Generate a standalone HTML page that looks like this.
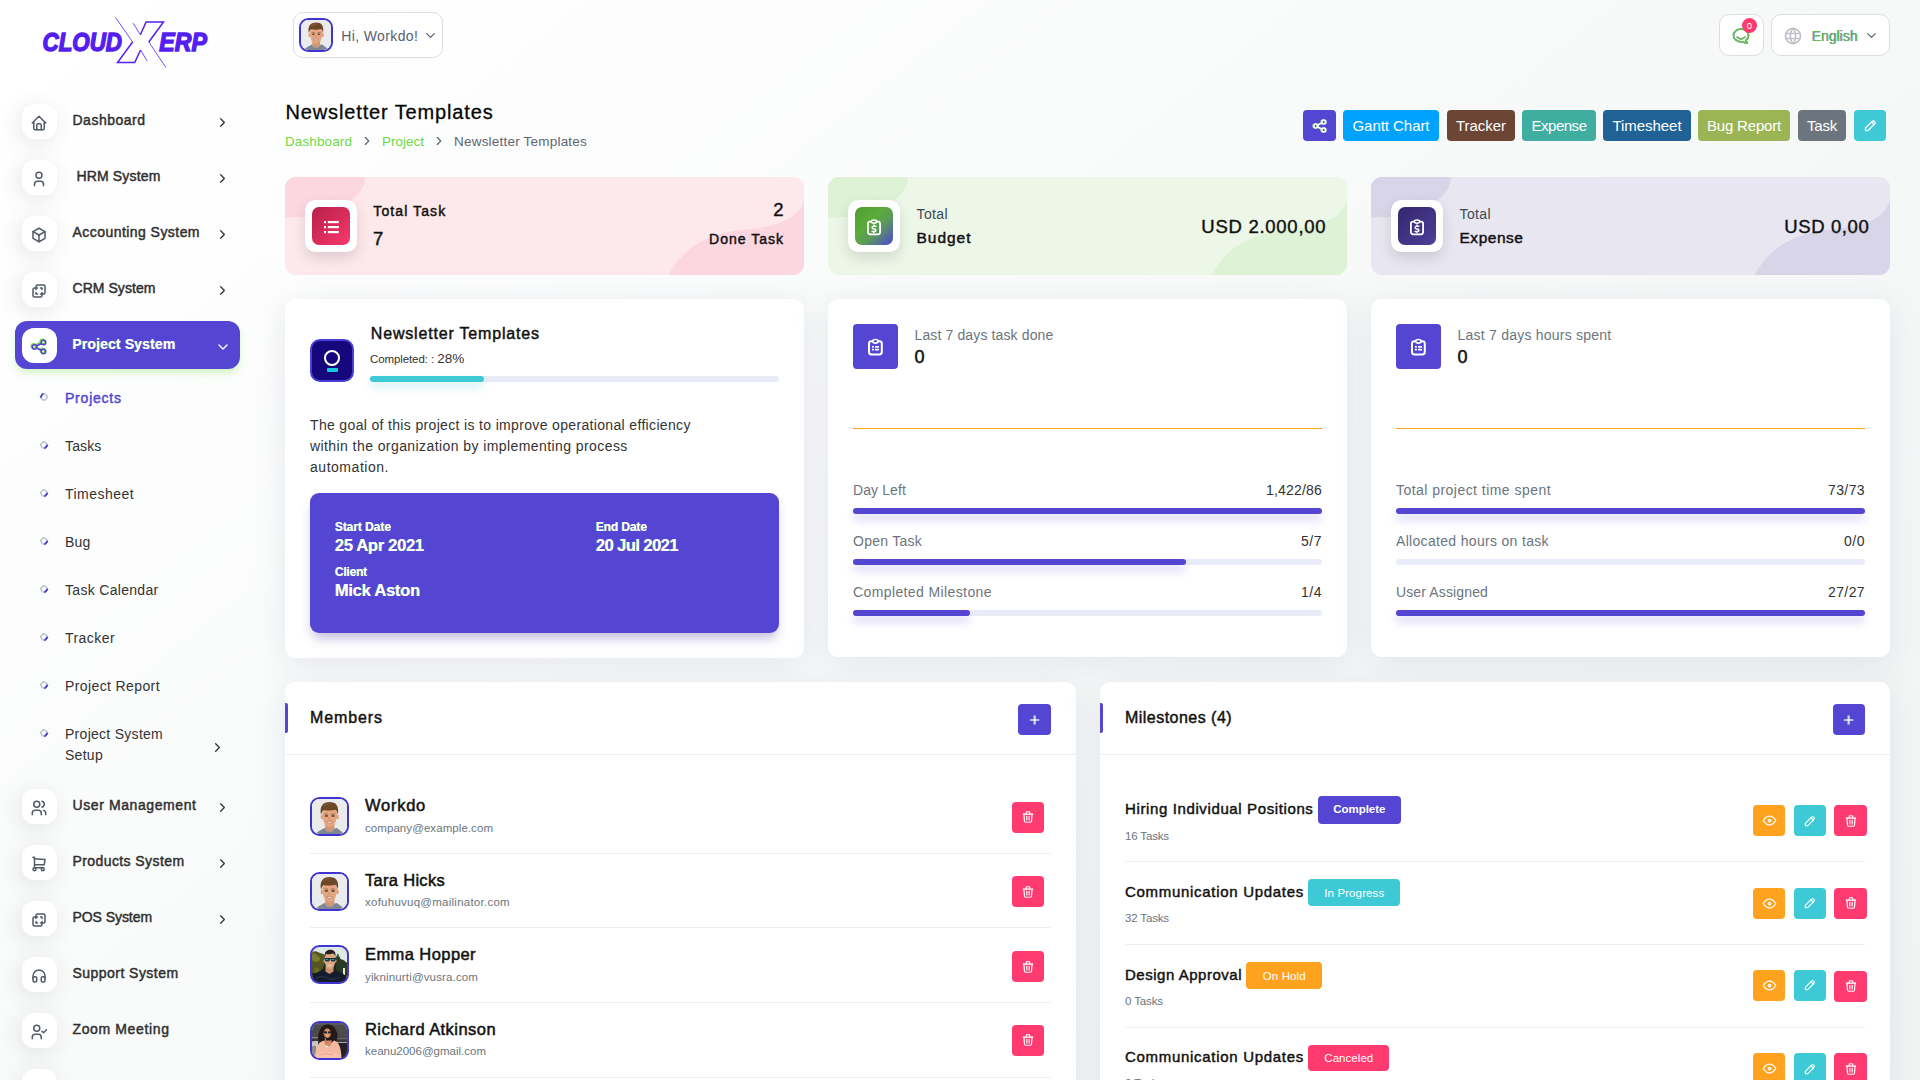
<!DOCTYPE html>
<html lang="en">
<head>
<meta charset="utf-8">
<title>Newsletter Templates</title>
<style>
*{box-sizing:border-box;margin:0;padding:0}
html,body{width:1920px;height:1080px;overflow:hidden}
body{font-family:"Liberation Sans",sans-serif;background:linear-gradient(141.55deg,rgba(240,244,243,0) 3.46%,#f0f4f3 99.86%),#fff;color:#333;position:relative;font-size:14px}
.abs{position:absolute}
svg.ti{fill:none;stroke:currentColor;stroke-width:2;stroke-linecap:round;stroke-linejoin:round;display:block}
/* ---------- sidebar ---------- */
#sidebar{position:absolute;left:0;top:0;width:280px;height:1080px}
.nav{position:absolute;left:15px;width:225px;height:48px}
.nav .ic{position:absolute;left:7px;top:6px;width:35px;height:35px;border-radius:12px;background:#fff;box-shadow:-3px 4px 23px rgba(0,0,0,.10);color:#525b69}
.nav .ic svg{position:absolute;left:8.400px;top:9.700px;width:18px;height:18px}
.nav .tx{position:absolute;left:57.500px;top:14.100px;font-size:14px;font-weight:400;color:#2f2f2f;-webkit-text-stroke:.45px #2f2f2f;white-space:nowrap}
.nav .ch{position:absolute;left:199.600px;top:17.100px;width:15px;height:15px;color:#333}
.nav.active{background:#5446d3;border-radius:12px;box-shadow:0 5px 7px -1px rgba(111,217,67,.30)}
.nav.active .tx{color:#fff;font-weight:700;-webkit-text-stroke:0;text-shadow:-.5px 0 0 rgba(170,240,120,.85)}
.nav.active .ch{color:#fff}
.nav.active{height:48.400px}
.nav.active>*{margin-top:.9px}
.nav.active .ic{box-shadow:none;color:#5446d3}
.nav.active .ic svg{filter:drop-shadow(-.6px -.4px 0 #6fd943)}
.sub{position:absolute;left:65px;font-size:14px;color:#333;white-space:nowrap;line-height:21px}
.sub.on{color:#5446d3;-webkit-text-stroke:.45px #5446d3}
.dot{position:absolute;left:40px;width:8px;height:8px;border-radius:50%;border:2px solid #c9cdda;border-right-color:#4a3fc0;transform:rotate(40deg)}
/* ---------- header ---------- */
.pill{position:absolute;background:#fff;border:1px solid #dcdee1;border-radius:10px}
/* ---------- cards ---------- */
.card{position:absolute;background:#fff;border-radius:10px;box-shadow:0 6px 30px rgba(182,186,203,.30)}
.btn{position:absolute;border-radius:4px;color:#fff;font-size:15px;text-align:center;white-space:nowrap}

.stat{position:absolute;width:519px;height:98px;border-radius:11px;overflow:hidden}
.blob{position:absolute;border-radius:50%}
.sic{position:absolute;left:20px;top:23px;width:52.300px;height:52.300px;border-radius:10.500px;background:#fff;box-shadow:0 6px 14px rgba(0,0,0,.12)}
.sin{position:absolute;left:7px;top:6.900px;width:38px;height:38.100px;border-radius:7px;color:#fff}
.t15b{-webkit-text-stroke-width:.45px;font-size:14px;font-weight:400;color:#111;white-space:nowrap}
.t16b{-webkit-text-stroke-width:.45px;font-size:15.5px;font-weight:400;color:#111;white-space:nowrap}
.t19b{-webkit-text-stroke-width:.4px;font-size:18.5px;font-weight:400;color:#111;white-space:nowrap}
.t20b{-webkit-text-stroke-width:.45px;font-size:18.5px;font-weight:400;color:#111;white-space:nowrap}
.avatar{border:2px solid #4034d2;border-radius:9.500px;overflow:hidden;background:#eceef1}
.avatar svg{display:block;width:100%;height:100%}

.prow{position:absolute;left:25px;width:469px;height:18px;font-size:14px;white-space:nowrap}
.prow .l{position:absolute;left:0;top:0;color:#6c757d}
.prow .r{position:absolute;right:0;top:0;color:#333}
.pbar{position:absolute;left:25px;width:469px;height:6px;border-radius:3px;background:#e9ebf8}
.pbar div{height:6px;border-radius:3px;background:#5446d3;box-shadow:0 6px 8px rgba(84,70,211,.22)}

.mname{position:absolute;left:80px;font-size:16.5px;font-weight:400;-webkit-text-stroke-width:.5px;color:#111;white-space:nowrap}
.mmail{position:absolute;left:80px;font-size:11.5px;color:#6c757d;white-space:nowrap}
.sep{position:absolute;left:25px;height:1px;background:#eceef2}
.ab{position:absolute;width:32px;height:31px;border-radius:4px;color:#fff}
.mtitle{position:absolute;left:25px;font-size:15px;font-weight:400;-webkit-text-stroke-width:.45px;color:#111;white-space:nowrap}
.badge{position:absolute;height:28px;border-radius:4px;color:#fff;font-size:11.5px;line-height:28px;text-align:center;white-space:nowrap}
.sb{font-weight:400!important;-webkit-text-stroke-width:.45px}
</style>
</head>
<body>

<div id="sidebar">
<svg class="abs" style="left:30px;top:5px" width="200" height="80" viewBox="30 5 200 80">
<g fill="#551ef0" stroke="#551ef0" stroke-width="1.4" font-family="Liberation Sans, sans-serif" font-weight="700" font-style="italic" font-size="25.5">
<text x="42.500" y="50.500" textLength="79.500" lengthAdjust="spacingAndGlyphs">CLOUD</text>
<text x="159.300" y="50.500" textLength="47.500" lengthAdjust="spacingAndGlyphs">ERP</text>
</g>
<g fill="none" stroke="#551ef0" stroke-linejoin="miter">
<path stroke-width="1.5" d="M132.600 42L117.500 62.500L134.700 62.500L140.600 50M140.400 34.700L146.100 21.900L163.500 21.900L148.800 42"/>
<path stroke-width=".8" d="M115.400 17.300L132.600 42M140.600 50L147.200 61.200M133.100 23.200L140.400 34.700M148.800 42L165.900 67.500"/>
</g>
</svg>

<div class="nav" style="top:98px">
<div class="ic"><svg class="ti" viewBox="0 0 24 24" style=""><path d="M5 12l-2 0l9 -9l9 9l-2 0"/><path d="M5 12v7a2 2 0 0 0 2 2h10a2 2 0 0 0 2 -2v-7"/><path d="M9 21v-6a2 2 0 0 1 2 -2h2a2 2 0 0 1 2 2v6"/></svg></div>
<div class="tx" style="margin-left:0px"><span style="letter-spacing:0.50px">Dashboard</span></div>
<div class="ch"><svg class="ti" viewBox="0 0 24 24" stroke-width="3" style="width:15px;height:15px;"><path d="M9 6l6 6l-6 6"/></svg></div>
</div>
<div class="nav" style="top:154px">
<div class="ic"><svg class="ti" viewBox="0 0 24 24" style=""><circle cx="12" cy="7" r="4"/><path d="M6 21v-2a4 4 0 0 1 4 -4h4a4 4 0 0 1 4 4v2"/></svg></div>
<div class="tx" style="margin-left:4px"><span style="letter-spacing:0.15px">HRM System</span></div>
<div class="ch"><svg class="ti" viewBox="0 0 24 24" stroke-width="3" style="width:15px;height:15px;"><path d="M9 6l6 6l-6 6"/></svg></div>
</div>
<div class="nav" style="top:210px">
<div class="ic"><svg class="ti" viewBox="0 0 24 24" style=""><path d="M12 3l8 4.5l0 9l-8 4.5l-8 -4.5l0 -9l8 -4.5"/><path d="M12 12l8 -4.5"/><path d="M12 12l0 9"/><path d="M12 12l-8 -4.5"/></svg></div>
<div class="tx" style="margin-left:0px"><span style="letter-spacing:0.45px">Accounting System</span></div>
<div class="ch"><svg class="ti" viewBox="0 0 24 24" stroke-width="3" style="width:15px;height:15px;"><path d="M9 6l6 6l-6 6"/></svg></div>
</div>
<div class="nav" style="top:266px">
<div class="ic"><svg class="ti" viewBox="0 0 24 24" style=""><path d="M16 16v2a2 2 0 0 1 -2 2h-8a2 2 0 0 1 -2 -2v-8a2 2 0 0 1 2 -2h2v-2a2 2 0 0 1 2 -2h8a2 2 0 0 1 2 2v8a2 2 0 0 1 -2 2h-2"/><path d="M10 8l-2 0l0 2"/><path d="M8 14l0 2l2 0"/><path d="M14 8l2 0l0 2"/><path d="M16 14l0 2l-2 0"/></svg></div>
<div class="tx" style="margin-left:0px"><span style="letter-spacing:0.05px">CRM System</span></div>
<div class="ch"><svg class="ti" viewBox="0 0 24 24" stroke-width="3" style="width:15px;height:15px;"><path d="M9 6l6 6l-6 6"/></svg></div>
</div>
<div class="nav active" style="top:321.1px">
<div class="ic"><svg class="ti" viewBox="0 0 24 24" style=""><circle cx="6" cy="12" r="3"/><circle cx="18" cy="6" r="3"/><circle cx="18" cy="18" r="3"/><path d="M8.7 10.7l6.6 -3.4"/><path d="M8.7 13.3l6.6 3.4"/></svg></div>
<div class="tx" style="margin-left:0px"><span style="letter-spacing:0.13px">Project System</span></div>
<div class="ch"><svg class="ti" viewBox="0 0 24 24" stroke-width="3.6" style="width:16px;height:16px;"><path d="M6 9l6 6l6 -6"/></svg></div>
</div>
<div class="nav" style="top:783px">
<div class="ic"><svg class="ti" viewBox="0 0 24 24" style=""><circle cx="9" cy="7" r="4"/><path d="M3 21v-2a4 4 0 0 1 4 -4h4a4 4 0 0 1 4 4v2"/><path d="M16 3.13a4 4 0 0 1 0 7.75"/><path d="M21 21v-2a4 4 0 0 0 -3 -3.85"/></svg></div>
<div class="tx" style="margin-left:0px"><span style="letter-spacing:0.59px">User Management</span></div>
<div class="ch"><svg class="ti" viewBox="0 0 24 24" stroke-width="3" style="width:15px;height:15px;"><path d="M9 6l6 6l-6 6"/></svg></div>
</div>
<div class="nav" style="top:839px">
<div class="ic"><svg class="ti" viewBox="0 0 24 24" style=""><circle cx="6" cy="19" r="2"/><circle cx="17" cy="19" r="2"/><path d="M17 17h-11v-14h-2"/><path d="M6 5l14 1l-1 7h-13"/></svg></div>
<div class="tx" style="margin-left:0px"><span style="letter-spacing:0.41px">Products System</span></div>
<div class="ch"><svg class="ti" viewBox="0 0 24 24" stroke-width="3" style="width:15px;height:15px;"><path d="M9 6l6 6l-6 6"/></svg></div>
</div>
<div class="nav" style="top:895px">
<div class="ic"><svg class="ti" viewBox="0 0 24 24" style=""><path d="M16 16v2a2 2 0 0 1 -2 2h-8a2 2 0 0 1 -2 -2v-8a2 2 0 0 1 2 -2h2v-2a2 2 0 0 1 2 -2h8a2 2 0 0 1 2 2v8a2 2 0 0 1 -2 2h-2"/><path d="M10 8l-2 0l0 2"/><path d="M8 14l0 2l2 0"/><path d="M14 8l2 0l0 2"/><path d="M16 14l0 2l-2 0"/></svg></div>
<div class="tx" style="margin-left:0px"><span style="letter-spacing:-0.06px">POS System</span></div>
<div class="ch"><svg class="ti" viewBox="0 0 24 24" stroke-width="3" style="width:15px;height:15px;"><path d="M9 6l6 6l-6 6"/></svg></div>
</div>
<div class="nav" style="top:951px">
<div class="ic"><svg class="ti" viewBox="0 0 24 24" style=""><rect x="4" y="13" width="5" height="7" rx="2"/><rect x="15" y="13" width="5" height="7" rx="2"/><path d="M4 15v-3a8 8 0 0 1 16 0v3"/></svg></div>
<div class="tx" style="margin-left:0px"><span style="letter-spacing:0.46px">Support System</span></div>
</div>
<div class="nav" style="top:1007px">
<div class="ic"><svg class="ti" viewBox="0 0 24 24" style=""><circle cx="9" cy="7" r="4"/><path d="M3 21v-2a4 4 0 0 1 4 -4h4a4 4 0 0 1 4 4v2"/><path d="M16 11l2 2l4 -4"/></svg></div>
<div class="tx" style="margin-left:0px"><span style="letter-spacing:0.63px">Zoom Meeting</span></div>
</div>
<div class="nav" style="top:1063px">
<div class="ic"><svg class="ti" viewBox="0 0 24 24" style=""><circle cx="12" cy="7" r="4"/><path d="M6 21v-2a4 4 0 0 1 4 -4h4a4 4 0 0 1 4 4v2"/></svg></div>
<div class="tx" style="margin-left:0px"><span style="letter-spacing:1.00px"></span></div>
</div>
<div class="dot" style="top:392.6px;transform:rotate(215deg);"></div>
<div class="sub on" style="top:387.8px"><span style="letter-spacing:0.78px">Projects</span></div>
<div class="dot" style="top:440.6px;"></div>
<div class="sub" style="top:435.8px"><span style="letter-spacing:0.14px">Tasks</span></div>
<div class="dot" style="top:488.6px;"></div>
<div class="sub" style="top:483.8px"><span style="letter-spacing:0.46px">Timesheet</span></div>
<div class="dot" style="top:536.6px;"></div>
<div class="sub" style="top:531.8px"><span style="letter-spacing:0.19px">Bug</span></div>
<div class="dot" style="top:584.6px;"></div>
<div class="sub" style="top:579.8px"><span style="letter-spacing:0.31px">Task Calendar</span></div>
<div class="dot" style="top:632.6px;"></div>
<div class="sub" style="top:627.8px"><span style="letter-spacing:0.44px">Tracker</span></div>
<div class="dot" style="top:680.6px;"></div>
<div class="sub" style="top:675.8px"><span style="letter-spacing:0.39px">Project Report</span></div>
<div class="dot" style="top:728.6px;"></div>
<div class="sub" style="top:723.8px"><span style="letter-spacing:0.28px">Project System</span></div>
<div class="sub" style="top:744.8px"><span style="letter-spacing:0.28px">Setup</span></div>
<div class="abs" style="left:209.7px;top:739.5px;color:#333"><svg class="ti" viewBox="0 0 24 24" stroke-width="3" style="width:15px;height:15px;"><path d="M9 6l6 6l-6 6"/></svg></div>
</div>
<div id="main">
<!-- header -->
<div class="pill" style="left:293px;top:12px;width:150px;height:46px">
  <div class="avatar abs" style="left:5px;top:5.300px;width:34px;height:33.500px"><svg viewBox="2 2 35 35"><rect width="39" height="39" fill="#ebebeb"/>
<path d="M4 39C5 36 8.500 34.500 14.400 31L19.500 33L26.900 31C31.500 34.500 34 36 35 39Z" fill="#7f8794"/>
<path d="M14.400 31l3 4.500l2.200-2.500l2.300 2.500l3-4.500l-4-1.500z" fill="#9aa1ad"/>
<path d="M15.300 26h9v6l-4.500 3.200l-4.500-3.200z" fill="#d39670"/>
<ellipse cx="11.900" cy="20" rx="1.300" ry="2.300" fill="#dc9f79"/><ellipse cx="27.500" cy="20" rx="1.300" ry="2.300" fill="#dc9f79"/>
<path d="M12.300 17C12.300 11 15 8.500 19.700 8.500S27 11 27 17C27 24 24 30.500 19.700 30.500S12.300 24 12.300 17Z" fill="#e4a781"/>
<path d="M11 18C9.300 9 13 5 19.500 5S29.200 8.500 27.900 18C27.400 14.800 26.600 13.400 25.600 12.700C22 13.900 16 13.600 13.600 12.900C12.500 13.600 11.600 15.200 11 18Z" fill="#6c4829"/>
<path d="M13 9.500C15 6.500 19 5.800 22 6.600C19 7 16 8 13 9.500Z" fill="#8a6138"/>
<ellipse cx="16.400" cy="18.900" rx="1.700" ry=".9" fill="#5a4334"/><ellipse cx="23" cy="18.900" rx="1.700" ry=".9" fill="#5a4334"/>
<path d="M14.300 17.300q2-1 4 0M21 17.300q2-1 4 0" stroke="#7a5436" stroke-width=".7" fill="none"/>
<path d="M16.400 24.600Q19.700 28.600 23 24.600Q19.700 25.600 16.400 24.600Z" fill="#fff" stroke="#b9705a" stroke-width=".6"/>
<path d="M19 20v3h1.600" fill="none" stroke="#c98d69" stroke-width=".7"/>
<path d="M14 27q5.700 5 11.400 0q-1.500 3.800-5.700 3.800T14 27z" fill="#d19873" opacity=".6"/>
</svg></div>
  <div class="abs" style="left:47.200px;top:14.900px;font-size:14px;color:#566070;white-space:nowrap"><span style="letter-spacing:0.38px">Hi, Workdo!</span></div>
  <div class="abs" style="left:128.600px;top:15.200px;color:#5b6473"><svg class="ti" viewBox="0 0 24 24" stroke-width="2.2" style="width:15px;height:15px;"><path d="M6 9l6 6l6 -6"/></svg></div>
</div>
<div class="pill" style="left:1718.500px;top:14px;width:45px;height:41.500px">
  <div class="abs" style="left:11.900px;top:11.100px;color:#6acb45;filter:drop-shadow(.5px .5px 0 #5446d3)"><svg class="ti" viewBox="0 0 24 24" stroke-width="1.4" style="width:20px;height:20px;"><path d="M17.802 17.292s.077 -.055 .2 -.149c1.843 -1.425 3 -3.49 3 -5.789c0 -4.286 -4.03 -7.764 -9 -7.764c-4.97 0 -9 3.478 -9 7.764c0 4.288 4.03 7.646 9 7.646c.424 0 1.12 -.028 2.088 -.084c1.262 .82 3.104 1.493 4.716 1.493c.499 0 .734 -.41 .414 -.828c-.486 -.596 -1.156 -1.551 -1.416 -2.29z"/><path d="M7.5 13.5c2.5 2.5 6.5 2.5 9 0"/></svg></div>
  <div class="abs" style="left:22.500px;top:2.800px;width:15px;height:15px;border-radius:50%;background:#ff3a6e;color:#fff;font-size:9.5px;line-height:15px;text-align:center">0</div>
</div>
<div class="pill" style="left:1770.500px;top:14px;width:119px;height:41.500px">
  <div class="abs" style="left:11.900px;top:10.800px;color:#bfc2c7"><svg class="ti" viewBox="0 0 24 24" stroke-width="1.5" style="width:20px;height:20px;"><circle cx="12" cy="12" r="9"/><path d="M3.6 9h16.8"/><path d="M3.6 15h16.8"/><path d="M11.5 3a17 17 0 0 0 0 18"/><path d="M12.5 3a17 17 0 0 1 0 18"/></svg></div>
  <div class="abs" style="left:40.500px;top:12.900px;font-size:14px;color:#62c14a;text-shadow:-.45px 0 0 #5446d3;white-space:nowrap"><span style="letter-spacing:0.01px">English</span></div>
  <div class="abs" style="left:92px;top:13px;color:#5b6473"><svg class="ti" viewBox="0 0 24 24" stroke-width="2.2" style="width:15px;height:15px;"><path d="M6 9l6 6l6 -6"/></svg></div>
</div>

<!-- title -->
<div class="abs" style="left:285.500px;top:101px;font-size:20px;color:#060606;white-space:nowrap;-webkit-text-stroke:.3px #060606"><span style="letter-spacing:0.86px">Newsletter Templates</span></div>
<div class="abs" style="left:285px;top:134px;font-size:13.5px;color:#6fd943;white-space:nowrap"><span style="letter-spacing:0.11px">Dashboard</span></div>
<div class="abs" style="left:360px;top:134px;color:#5f6670"><svg class="ti" viewBox="0 0 24 24" stroke-width="2.2" style="width:14px;height:14px;"><path d="M9 6l6 6l-6 6"/></svg></div>
<div class="abs" style="left:382px;top:134px;font-size:13.5px;color:#6fd943;white-space:nowrap"><span style="letter-spacing:-0.00px">Project</span></div>
<div class="abs" style="left:432px;top:134px;color:#5f6670"><svg class="ti" viewBox="0 0 24 24" stroke-width="2.2" style="width:14px;height:14px;"><path d="M9 6l6 6l-6 6"/></svg></div>
<div class="abs" style="left:454px;top:134px;font-size:13.5px;color:#5f6670;white-space:nowrap"><span style="letter-spacing:0.21px">Newsletter Templates</span></div>

<!-- action buttons -->
<div class="btn" style="left:1303px;top:110px;width:33px;height:31px;background:#5446d3"><div class="abs" style="left:8.500px;top:7.500px;filter:drop-shadow(-.4px 0 0 rgba(170,240,120,.9))"><svg class="ti" viewBox="0 0 24 24" stroke-width="2.9" style="width:16px;height:16px;"><circle cx="6" cy="12" r="3"/><circle cx="18" cy="6" r="3"/><circle cx="18" cy="18" r="3"/><path d="M8.7 10.7l6.6 -3.4"/><path d="M8.7 13.3l6.6 3.4"/></svg></div></div>
<div class="btn" style="left:1343px;top:110px;width:96px;height:31px;background:#00a2ff;line-height:31px"><span style="letter-spacing:-0.05px">Gantt Chart</span></div>
<div class="btn" style="left:1447px;top:110px;width:68px;height:31px;background:#6c4534;line-height:31px"><span style="letter-spacing:-0.04px">Tracker</span></div>
<div class="btn" style="left:1522px;top:110px;width:74px;height:31px;background:#3fada0;line-height:31px"><span style="letter-spacing:-0.48px">Expense</span></div>
<div class="btn" style="left:1603px;top:110px;width:88px;height:31px;background:#216296;line-height:31px"><span style="letter-spacing:-0.05px">Timesheet</span></div>
<div class="btn" style="left:1698px;top:110px;width:92px;height:31px;background:#9bb555;line-height:31px"><span style="letter-spacing:-0.19px">Bug Report</span></div>
<div class="btn" style="left:1798px;top:110px;width:48px;height:31px;background:#6c757d;line-height:31px"><span style="letter-spacing:-0.21px">Task</span></div>
<div class="btn" style="left:1854px;top:110px;width:32px;height:31px;background:#3ec9d6"><div class="abs" style="left:8.500px;top:8px"><svg class="ti" viewBox="0 0 24 24" stroke-width="2.5" style="width:15px;height:15px;"><path d="M4 20h4l10.5 -10.5a2.828 2.828 0 1 0 -4 -4l-10.5 10.5v4"/><path d="M13.5 6.5l4 4"/></svg></div></div>
<!-- stat cards -->
<div class="stat" style="left:285px;top:177px;background:#fde8ec">
  <svg class="abs" style="left:0;top:0" width="519" height="98" viewBox="0 0 519 98"><ellipse cx="5" cy="0" rx="75" ry="40.4" fill="#fcd7e0"/><path d="M519 23C515 40 495 50 457 53C425 56 398 70 383.600 98L519 98Z" fill="#fcd7e0"/></svg>
  <div class="sic"><div class="sin" style="background:linear-gradient(135deg,#b81e4a 0%,#f73a6b 100%)"><div class="abs" style="left:12.300px;top:14px"><svg width="16" height="14" viewBox="0 0 16 14" style="display:block"><g fill="#fff"><rect x="0" y="0" width="2" height="2.2"/><rect x="3.800" y="0" width="11" height="2.2"/><rect x="0" y="5" width="2" height="2.2"/><rect x="3.800" y="5" width="11" height="2.2"/><rect x="0" y="10" width="2" height="2.2"/><rect x="3.800" y="10" width="11" height="2.2"/></g></svg></div></div></div>
  <div class="abs t15b" style="left:88.300px;top:26px"><span style="letter-spacing:1.10px">Total Task</span></div>
  <div class="abs t20b" style="left:88px;top:51.200px">7</div>
  <div class="abs t20b" style="right:20.500px;top:22px">2</div>
  <div class="abs t15b" style="right:20px;top:54px"><span style="letter-spacing:1.01px">Done Task</span></div>
</div>
<div class="stat" style="left:828px;top:177px;background:#edf7e8">
  <svg class="abs" style="left:0;top:0" width="519" height="98" viewBox="0 0 519 98"><ellipse cx="5" cy="0" rx="75" ry="40.4" fill="#def2d6"/><path d="M519 23C515 40 495 50 457 53C425 56 398 70 383.600 98L519 98Z" fill="#def2d6"/></svg>
  <div class="sic"><div class="sin" style="background:linear-gradient(135deg,#4f9e2f 0%,#5aab3a 38%,#5b9a58 60%,#4b47d6 100%)"><div class="abs" style="left:12.100px;top:12.100px"><svg width="14" height="16.2" viewBox="0 0 14 16.2" style="display:block;overflow:visible"><g fill="none" stroke="#fff" stroke-linecap="round" stroke-linejoin="round"><rect x=".9" y="2.600" width="12.2" height="12.7" rx="2.2" stroke-width="1.8"/><ellipse cx="7" cy="2.600" rx="2.700" ry="1.700" fill="#5aa840" stroke-width="1.5"/><path d="M8.900 7.200H6.500a1.350 1.350 0 0 0 0 2.700h1a1.350 1.350 0 0 1 0 2.700H5.100M7 6.100v1.100M7 12.600v1" stroke-width="1.5"/></g></svg></div></div></div>
  <div class="abs" style="left:88.500px;top:28.850px;font-size:14px;color:#3d4654"><span style="letter-spacing:0.38px">Total</span></div>
  <div class="abs t16b" style="left:88.500px;top:51.600px"><span style="letter-spacing:0.98px">Budget</span></div>
  <div class="abs t19b" style="right:20.700px;top:38.700px"><span style="letter-spacing:0.73px">USD 2.000,00</span></div>
</div>
<div class="stat" style="left:1371px;top:177px;background:#e8e6f1">
  <svg class="abs" style="left:0;top:0" width="519" height="98" viewBox="0 0 519 98"><ellipse cx="5" cy="0" rx="75" ry="40.4" fill="#d9d5e8"/><path d="M519 23C515 40 495 50 457 53C425 56 398 70 383.600 98L519 98Z" fill="#d9d5e8"/></svg>
  <div class="sic"><div class="sin" style="background:linear-gradient(135deg,#35276e 0%,#4e3e9a 100%)"><div class="abs" style="left:12.100px;top:12.100px"><svg width="14" height="16.2" viewBox="0 0 14 16.2" style="display:block;overflow:visible"><g fill="none" stroke="#fff" stroke-linecap="round" stroke-linejoin="round"><rect x=".9" y="2.600" width="12.2" height="12.7" rx="2.2" stroke-width="1.8"/><ellipse cx="7" cy="2.600" rx="2.700" ry="1.700" fill="#40317f" stroke-width="1.5"/><path d="M8.900 7.200H6.500a1.350 1.350 0 0 0 0 2.700h1a1.350 1.350 0 0 1 0 2.700H5.100M7 6.100v1.100M7 12.600v1" stroke-width="1.5"/></g></svg></div></div></div>
  <div class="abs" style="left:88.500px;top:28.850px;font-size:14px;color:#3d4654"><span style="letter-spacing:0.38px">Total</span></div>
  <div class="abs t16b" style="left:88.500px;top:51.600px"><span style="letter-spacing:0.52px">Expense</span></div>
  <div class="abs t19b" style="right:20.700px;top:38.700px"><span style="letter-spacing:0.60px">USD 0,00</span></div>
</div>
<!-- project card -->
<div class="card" style="left:285px;top:299px;width:519px;height:359px">
  <div class="abs" style="left:25px;top:40px;width:44px;height:43px;border-radius:10px;background:#16087c;border:2px solid #4a3fd6">
    <div class="abs" style="left:11.700px;top:8.500px;width:16.600px;height:16px;border-radius:50%;border:2.800px solid #fff"></div>
    <div class="abs" style="left:14.500px;top:27.300px;width:11px;height:3.300px;border-radius:1px;background:#19c8dc"></div>
  </div>
  <div class="abs" style="left:85.800px;top:26px;font-size:16px;color:#111;white-space:nowrap" ><span class="sb" style="letter-spacing:0.82px">Newsletter Templates</span></div>
  <div class="abs" style="left:85px;top:52px;font-size:11.5px;color:#333;white-space:nowrap"><span style="letter-spacing:-0.10px">Completed: :</span> <span style="font-size:13.5px"><span style="letter-spacing:-0.01px">28%</span></span></div>
  <div class="abs" style="left:85px;top:77px;width:409px;height:6px;border-radius:3px;background:#e9ebf8"><div style="width:114px;height:6px;border-radius:3px;background:#3ec9d6;box-shadow:0 5px 8px rgba(62,201,214,.25)"></div></div>
  <div class="abs" style="left:25px;top:116px;font-size:14px;line-height:21px;color:#333;white-space:nowrap"><span style="letter-spacing:0.34px">The goal of this project is to improve operational efficiency</span><br><span style="letter-spacing:0.42px">within the organization by implementing process</span><br><span style="letter-spacing:0.53px">automation.</span></div>
  <div class="abs" style="left:25px;top:194px;width:469px;height:139.500px;border-radius:9px;background:#5446d3;box-shadow:0 8px 12px -3px rgba(60,50,150,.33);color:#fff;font-weight:700;white-space:nowrap;text-shadow:-.5px 0 0 rgba(170,240,120,.85)">
    <div class="abs" style="left:25px;top:27.200px;font-size:12px"><span style="letter-spacing:-0.07px">Start Date</span></div>
    <div class="abs" style="left:25px;top:43px;font-size:16.5px"><span style="letter-spacing:-0.28px">25 Apr 2021</span></div>
    <div class="abs" style="left:286px;top:27.200px;font-size:12px"><span style="letter-spacing:-0.13px">End Date</span></div>
    <div class="abs" style="left:286px;top:43px;font-size:16.5px"><span style="letter-spacing:-0.55px">20 Jul 2021</span></div>
    <div class="abs" style="left:25px;top:72px;font-size:12px"><span style="letter-spacing:-0.22px">Client</span></div>
    <div class="abs" style="left:25px;top:88px;font-size:16.5px"><span style="letter-spacing:-0.24px">Mick Aston</span></div>
  </div>
</div>

<!-- task done card -->
<div class="card" style="left:828px;top:299px;width:519px;height:358px">
  <div class="abs" style="left:25px;top:25px;width:44.900px;height:44.900px;border-radius:4px;background:#5446d3;color:#fff"><div class="abs" style="left:15.200px;top:14.100px"><svg width="14.8" height="17.4" viewBox="0 0 14.8 17.4" style="display:block;overflow:visible"><g fill="none" stroke="#fff" stroke-linecap="round" stroke-linejoin="round"><rect x="1" y="3.200" width="12.8" height="13.2" rx="2.400" stroke-width="2"/><ellipse cx="7.400" cy="3.300" rx="2.800" ry="1.800" fill="#5446d3" stroke-width="1.700"/></g><g fill="#fff"><rect x="3.900" y="8" width="2" height="1.700" rx=".4"/><rect x="6.900" y="8" width="4.200" height="1.700" rx=".4"/><rect x="3.900" y="10.700" width="2" height="1.700" rx=".4"/><rect x="6.900" y="10.700" width="4.200" height="1.700" rx=".4"/></g></svg></div></div>
  <div class="abs" style="left:86.500px;top:28.100px;font-size:14px;color:#6c757d;white-space:nowrap"><span style="letter-spacing:0.13px">Last 7 days task done</span></div>
  <div class="abs" style="left:86.500px;top:48px;font-size:18px;color:#111;-webkit-text-stroke-width:.5px">0</div>
  <div class="abs" style="left:25px;top:129px;width:469px;height:1px;background:#ffa21d"></div>
  <div class="prow" style="top:183px"><span class="l"><span style="letter-spacing:0.11px">Day Left</span></span><span class="r"><span style="letter-spacing:0.19px">1,422/86</span></span></div>
  <div class="pbar" style="top:209px"><div style="width:469px"></div></div>
  <div class="prow" style="top:234px"><span class="l"><span style="letter-spacing:0.26px">Open Task</span></span><span class="r"><span style="letter-spacing:0.51px">5/7</span></span></div>
  <div class="pbar" style="top:260px"><div style="width:333px"></div></div>
  <div class="prow" style="top:284.900px"><span class="l"><span style="letter-spacing:0.39px">Completed Milestone</span></span><span class="r"><span style="letter-spacing:0.51px">1/4</span></span></div>
  <div class="pbar" style="top:311px"><div style="width:117px"></div></div>
</div>

<!-- hours spent card -->
<div class="card" style="left:1371px;top:299px;width:519px;height:358px">
  <div class="abs" style="left:25px;top:25px;width:44.900px;height:44.900px;border-radius:4px;background:#5446d3;color:#fff"><div class="abs" style="left:15.200px;top:14.100px"><svg width="14.8" height="17.4" viewBox="0 0 14.8 17.4" style="display:block;overflow:visible"><g fill="none" stroke="#fff" stroke-linecap="round" stroke-linejoin="round"><rect x="1" y="3.200" width="12.8" height="13.2" rx="2.400" stroke-width="2"/><ellipse cx="7.400" cy="3.300" rx="2.800" ry="1.800" fill="#5446d3" stroke-width="1.700"/></g><g fill="#fff"><rect x="3.900" y="8" width="2" height="1.700" rx=".4"/><rect x="6.900" y="8" width="4.200" height="1.700" rx=".4"/><rect x="3.900" y="10.700" width="2" height="1.700" rx=".4"/><rect x="6.900" y="10.700" width="4.200" height="1.700" rx=".4"/></g></svg></div></div>
  <div class="abs" style="left:86.500px;top:28.100px;font-size:14px;color:#6c757d;white-space:nowrap"><span style="letter-spacing:0.23px">Last 7 days hours spent</span></div>
  <div class="abs" style="left:86.500px;top:48px;font-size:18px;color:#111;-webkit-text-stroke-width:.5px">0</div>
  <div class="abs" style="left:25px;top:129px;width:469px;height:1px;background:#ffa21d"></div>
  <div class="prow" style="top:183px"><span class="l"><span style="letter-spacing:0.46px">Total project time spent</span></span><span class="r"><span style="letter-spacing:0.39px">73/73</span></span></div>
  <div class="pbar" style="top:209px"><div style="width:469px"></div></div>
  <div class="prow" style="top:234px"><span class="l"><span style="letter-spacing:0.32px">Allocated hours on task</span></span><span class="r"><span style="letter-spacing:0.51px">0/0</span></span></div>
  <div class="pbar" style="top:260px"></div>
  <div class="prow" style="top:284.900px"><span class="l"><span style="letter-spacing:0.13px">User Assigned</span></span><span class="r"><span style="letter-spacing:0.39px">27/27</span></span></div>
  <div class="pbar" style="top:311px"><div style="width:469px"></div></div>
</div>
<!-- members -->
<div class="card" style="left:285px;top:682px;width:791px;height:420px;border-bottom-left-radius:0;border-bottom-right-radius:0">
  <div class="abs" style="left:0;top:20.900px;width:3px;height:30px;background:#5446d3;border-radius:0 2px 2px 0"></div>
  <div class="abs" style="left:25px;top:26.700px;font-size:16px;-webkit-text-stroke-width:.45px;color:#111;white-space:nowrap"><span style="letter-spacing:0.90px">Members</span></div>
  <div class="abs" style="left:733px;top:22px;width:33px;height:31px;border-radius:4px;background:#5446d3;color:#fff"><div class="abs" style="left:9.500px;top:8.500px;filter:drop-shadow(-.4px 0 0 rgba(170,240,120,.9))"><svg class="ti" viewBox="0 0 24 24" stroke-width="3.8" style="width:14px;height:14px;"><path d="M12 5l0 14"/><path d="M5 12l14 0"/></svg></div></div>
  <div class="abs" style="left:0;top:72px;width:791px;height:1px;background:#eceef2"></div>
  <div class="avatar abs" style="left:25px;top:114.9px;width:39px;height:39px"><svg viewBox="2 2 35 35"><rect width="39" height="39" fill="#ebebeb"/>
<path d="M4 39C5 36 8.500 34.500 14.400 31L19.500 33L26.900 31C31.500 34.500 34 36 35 39Z" fill="#7f8794"/>
<path d="M14.400 31l3 4.500l2.200-2.500l2.300 2.500l3-4.500l-4-1.500z" fill="#9aa1ad"/>
<path d="M15.300 26h9v6l-4.500 3.200l-4.500-3.200z" fill="#d39670"/>
<ellipse cx="11.900" cy="20" rx="1.300" ry="2.300" fill="#dc9f79"/><ellipse cx="27.500" cy="20" rx="1.300" ry="2.300" fill="#dc9f79"/>
<path d="M12.300 17C12.300 11 15 8.500 19.700 8.500S27 11 27 17C27 24 24 30.500 19.700 30.500S12.300 24 12.300 17Z" fill="#e4a781"/>
<path d="M11 18C9.300 9 13 5 19.500 5S29.200 8.500 27.900 18C27.400 14.800 26.600 13.400 25.600 12.700C22 13.900 16 13.600 13.600 12.900C12.500 13.600 11.600 15.200 11 18Z" fill="#6c4829"/>
<path d="M13 9.500C15 6.500 19 5.800 22 6.600C19 7 16 8 13 9.500Z" fill="#8a6138"/>
<ellipse cx="16.400" cy="18.900" rx="1.700" ry=".9" fill="#5a4334"/><ellipse cx="23" cy="18.900" rx="1.700" ry=".9" fill="#5a4334"/>
<path d="M14.300 17.300q2-1 4 0M21 17.300q2-1 4 0" stroke="#7a5436" stroke-width=".7" fill="none"/>
<path d="M16.400 24.600Q19.700 28.600 23 24.600Q19.700 25.600 16.400 24.600Z" fill="#fff" stroke="#b9705a" stroke-width=".6"/>
<path d="M19 20v3h1.600" fill="none" stroke="#c98d69" stroke-width=".7"/>
<path d="M14 27q5.700 5 11.400 0q-1.500 3.800-5.700 3.800T14 27z" fill="#d19873" opacity=".6"/>
</svg></div>
<div class="mname" style="top:114.1px"><span style="letter-spacing:0.74px">Workdo</span></div>
<div class="mmail" style="top:140.4px"><span style="letter-spacing:0.07px">company@example.com</span></div>
<div class="ab" style="left:727px;top:119.8px;background:#ff3a6e"><div class="abs" style="left:9px;top:8.5px"><svg class="ti" viewBox="0 0 24 24" stroke-width="2.2" style="width:14px;height:14px;"><path d="M4 7l16 0"/><path d="M10 11l0 6"/><path d="M14 11l0 6"/><path d="M5 7l1 12a2 2 0 0 0 2 2h8a2 2 0 0 0 2 -2l1 -12"/><path d="M9 7v-3a1 1 0 0 1 1 -1h4a1 1 0 0 1 1 1v3"/></svg></div></div>
<div class="sep" style="top:170.8px;width:741px"></div>
<div class="avatar abs" style="left:25px;top:189.5px;width:39px;height:39px"><svg viewBox="2 2 35 35"><rect width="39" height="39" fill="#ebebeb"/>
<path d="M4 39C5 36 8.500 34.500 14.400 31L19.500 33L26.900 31C31.500 34.500 34 36 35 39Z" fill="#7f8794"/>
<path d="M14.400 31l3 4.500l2.200-2.500l2.300 2.500l3-4.500l-4-1.500z" fill="#9aa1ad"/>
<path d="M15.300 26h9v6l-4.500 3.200l-4.500-3.200z" fill="#d39670"/>
<ellipse cx="11.900" cy="20" rx="1.300" ry="2.300" fill="#dc9f79"/><ellipse cx="27.500" cy="20" rx="1.300" ry="2.300" fill="#dc9f79"/>
<path d="M12.300 17C12.300 11 15 8.500 19.700 8.500S27 11 27 17C27 24 24 30.500 19.700 30.500S12.300 24 12.300 17Z" fill="#e4a781"/>
<path d="M11 18C9.300 9 13 5 19.500 5S29.200 8.500 27.900 18C27.400 14.800 26.600 13.400 25.600 12.700C22 13.900 16 13.600 13.600 12.900C12.500 13.600 11.600 15.200 11 18Z" fill="#6c4829"/>
<path d="M13 9.500C15 6.500 19 5.800 22 6.600C19 7 16 8 13 9.500Z" fill="#8a6138"/>
<ellipse cx="16.400" cy="18.900" rx="1.700" ry=".9" fill="#5a4334"/><ellipse cx="23" cy="18.900" rx="1.700" ry=".9" fill="#5a4334"/>
<path d="M14.300 17.300q2-1 4 0M21 17.300q2-1 4 0" stroke="#7a5436" stroke-width=".7" fill="none"/>
<path d="M16.400 24.600Q19.700 28.600 23 24.600Q19.700 25.600 16.400 24.600Z" fill="#fff" stroke="#b9705a" stroke-width=".6"/>
<path d="M19 20v3h1.600" fill="none" stroke="#c98d69" stroke-width=".7"/>
<path d="M14 27q5.700 5 11.400 0q-1.500 3.800-5.700 3.800T14 27z" fill="#d19873" opacity=".6"/>
</svg></div>
<div class="mname" style="top:188.7px"><span style="letter-spacing:0.30px">Tara Hicks</span></div>
<div class="mmail" style="top:214.0px"><span style="letter-spacing:0.25px">xofuhuvuq@mailinator.com</span></div>
<div class="ab" style="left:727px;top:194.4px;background:#ff3a6e"><div class="abs" style="left:9px;top:8.5px"><svg class="ti" viewBox="0 0 24 24" stroke-width="2.2" style="width:14px;height:14px;"><path d="M4 7l16 0"/><path d="M10 11l0 6"/><path d="M14 11l0 6"/><path d="M5 7l1 12a2 2 0 0 0 2 2h8a2 2 0 0 0 2 -2l1 -12"/><path d="M9 7v-3a1 1 0 0 1 1 -1h4a1 1 0 0 1 1 1v3"/></svg></div></div>
<div class="sep" style="top:245.4px;width:741px"></div>
<div class="avatar abs" style="left:25px;top:263.1px;width:39px;height:39px"><svg viewBox="2 2 35 35"><rect width="39" height="39" fill="#1c2619"/>
<path d="M0 0h39v17c-3 1-6 .5-8-1.500s-4-3-7-3.500s-6-1.500-9-2s-8-1-15-.5z" fill="#dde9e9"/>
<path d="M0 8c3-2 6-2.500 8-1s4 1 6 2.500s2 5 1 8s-2 6-4 8s-6 3-11 2.500z" fill="#55551f"/>
<path d="M2 9c2-1 4-.5 5 1s3 2 3 4s-2 3-4 3s-4-1-4-3z" fill="#7a7a2a"/>
<path d="M4 24c1-2 4-2 5-.5s0 4-2 4.500s-3-2-3-4z" fill="#6b6a25"/>
<path d="M26 12c2-2 4-1 4 1s3 1 5 3s2 5 4 6v6h-13z" fill="#2a3a24"/>
<path d="M28 8l-3 6l4-3z" fill="#39552f"/>
<rect x="33" y="23" width="2" height="7" fill="#e8e4cf"/>
<path d="M0 39C1 31 5 27 13 25.500L19.500 28L26 25.500C33 27 37 31 38.500 39Z" fill="#141c2b"/>
<path d="M6 33q6-3 12 0t12-1" stroke="#22304a" stroke-width="1.500" fill="none"/>
<path d="M15.500 21h8v5.500l-4 2.500l-4-2.500z" fill="#c98f6c"/>
<ellipse cx="14.300" cy="16" rx="1" ry="1.800" fill="#cf9672"/><ellipse cx="25.600" cy="16" rx="1" ry="1.800" fill="#cf9672"/>
<path d="M14.500 14C14.500 10 16.500 8 20 8s5.500 2 5.500 6c0 5-2 10-5.500 10s-5.500-5-5.500-10z" fill="#dba886"/>
<path d="M14.800 11.500C14.300 7 16.500 4.800 20.300 4.800S26 7 25.600 12C25 10 24 9 23 8.600C20.500 9.500 17.500 9.300 16.300 9C15.600 9.500 15.100 10.300 14.800 11.500Z" fill="#2a1e1b"/>
<rect x="14.800" y="13" width="5" height="3.400" rx="1.300" fill="#1c3a45"/><rect x="20.600" y="13" width="5" height="3.400" rx="1.300" fill="#1c3a45"/>
<rect x="15.500" y="13.500" width="2.500" height="1.500" rx=".7" fill="#37a3b3"/><rect x="21.600" y="13.500" width="2.500" height="1.500" rx=".7" fill="#37a3b3"/>
<rect x="14.500" y="13" width="11.500" height=".9" fill="#14252d"/>
<path d="M17.500 20.200q2.500 1.800 5 0q-2.500 .8-5 0z" fill="#fff"/>
</svg></div>
<div class="mname" style="top:263.3px"><span style="letter-spacing:0.42px">Emma Hopper</span></div>
<div class="mmail" style="top:288.6px"><span style="letter-spacing:0.15px">yikninurti@vusra.com</span></div>
<div class="ab" style="left:727px;top:269.0px;background:#ff3a6e"><div class="abs" style="left:9px;top:8.5px"><svg class="ti" viewBox="0 0 24 24" stroke-width="2.2" style="width:14px;height:14px;"><path d="M4 7l16 0"/><path d="M10 11l0 6"/><path d="M14 11l0 6"/><path d="M5 7l1 12a2 2 0 0 0 2 2h8a2 2 0 0 0 2 -2l1 -12"/><path d="M9 7v-3a1 1 0 0 1 1 -1h4a1 1 0 0 1 1 1v3"/></svg></div></div>
<div class="sep" style="top:320.0px;width:741px"></div>
<div class="avatar abs" style="left:25px;top:338.7px;width:39px;height:39px"><svg viewBox="2 2 35 35"><rect width="39" height="39" fill="#4b4b4d"/>
<rect x="0" y="0" width="39" height="4" fill="#5a5a58"/>
<rect x="0" y="17" width="39" height="22" fill="#3a3a3e"/>
<rect x="0" y="16.200" width="8" height="1" fill="#9a9894"/>
<rect x="26" y="17.300" width="13" height=".9" fill="#77767a"/>
<rect x="27" y="21" width="12" height="1" fill="#a9a7a6"/>
<rect x="27" y="22" width="12" height="17" fill="#222226"/>
<path d="M0 23q1-3 4-3h4v19h-8z" fill="#c9c5bf"/>
<path d="M2 25h4v9h-4z" fill="#8d8a88"/>
<ellipse cx="17.800" cy="13" rx="8.800" ry="9.800" fill="#231918"/>
<ellipse cx="11.500" cy="16" rx="3.500" ry="6" fill="#231918"/><ellipse cx="24.500" cy="15" rx="3" ry="6" fill="#231918"/>
<path d="M5 39C5 27 8 21 14 19.500L18 25L24 19.500C29 21 31.500 27 31.500 39Z" fill="#f4b9a1"/>
<path d="M14 19.500h8l-1.500 5l-3 2l-2.500-3z" fill="#d18a63"/>
<ellipse cx="17.300" cy="12.200" rx="3.700" ry="4.700" fill="#d98e66"/>
<rect x="13.800" y="10.300" width="3.300" height="2.300" rx="1.100" fill="#1b2430"/><rect x="17.900" y="10.300" width="3.300" height="2.300" rx="1.100" fill="#1b2430"/>
<path d="M15.600 14.300q1.800 1.600 3.600 0q-1.800 .6-3.600 0z" fill="#fff"/>
<path d="M15 17q.5 3 2.500 5" stroke="#c07d58" stroke-width="1.200" fill="none"/>
<ellipse cx="17" cy="25.500" rx="1.600" ry=".9" fill="#e9e6e2"/>
<path d="M7 33q8-5 16-1t8 0v7h-24z" fill="#f7c3ad"/>
<path d="M9 34q7-3 14 0" stroke="#e5a68e" stroke-width="1" fill="none"/>
</svg></div>
<div class="mname" style="top:337.9px"><span style="letter-spacing:0.45px">Richard Atkinson</span></div>
<div class="mmail" style="top:363.2px"><span style="letter-spacing:0.00px">keanu2006@gmail.com</span></div>
<div class="ab" style="left:727px;top:342.6px;background:#ff3a6e"><div class="abs" style="left:9px;top:8.5px"><svg class="ti" viewBox="0 0 24 24" stroke-width="2.2" style="width:14px;height:14px;"><path d="M4 7l16 0"/><path d="M10 11l0 6"/><path d="M14 11l0 6"/><path d="M5 7l1 12a2 2 0 0 0 2 2h8a2 2 0 0 0 2 -2l1 -12"/><path d="M9 7v-3a1 1 0 0 1 1 -1h4a1 1 0 0 1 1 1v3"/></svg></div></div>
<div class="sep" style="top:394.6px;width:741px"></div>
</div>

<!-- milestones -->
<div class="card" style="left:1100px;top:682px;width:790px;height:420px;border-bottom-left-radius:0;border-bottom-right-radius:0">
  <div class="abs" style="left:0;top:20.900px;width:3px;height:30px;background:#5446d3;border-radius:0 2px 2px 0"></div>
  <div class="abs" style="left:25px;top:26.700px;font-size:16px;-webkit-text-stroke-width:.45px;color:#111;white-space:nowrap"><span style="letter-spacing:0.47px">Milestones (4)</span></div>
  <div class="abs" style="left:733px;top:22px;width:32px;height:31px;border-radius:4px;background:#5446d3;color:#fff"><div class="abs" style="left:9px;top:8.500px;filter:drop-shadow(-.4px 0 0 rgba(170,240,120,.9))"><svg class="ti" viewBox="0 0 24 24" stroke-width="3.8" style="width:14px;height:14px;"><path d="M12 5l0 14"/><path d="M5 12l14 0"/></svg></div></div>
  <div class="abs" style="left:0;top:72px;width:790px;height:1px;background:#eceef2"></div>
  <div class="mtitle" style="top:117.7px"><span style="letter-spacing:0.62px">Hiring Individual Positions</span></div>
<div class="badge" style="left:217.8px;top:114.0px;width:83px;height:27.8px;line-height:27.8px;background:#5446d3;font-weight:700;"><span style="letter-spacing:-0.05px">Complete</span></div>
<div class="mmail" style="left:25px;top:148.4px"><span style="letter-spacing:-0.15px">16 Tasks</span></div>
<div class="ab" style="left:653px;top:123.0px;background:#ffa21d"><div class="abs" style="left:8.5px;top:8px"><svg class="ti" viewBox="0 0 24 24" stroke-width="2" style="width:15px;height:15px;"><circle cx="12" cy="12" r="2"/><path d="M22 12c-2.667 4.667 -6 7 -10 7s-7.333 -2.333 -10 -7c2.667 -4.667 6 -7 10 -7s7.333 2.333 10 7"/></svg></div></div>
<div class="ab" style="left:694px;top:123.0px;background:#3ec9d6"><div class="abs" style="left:9px;top:8.5px"><svg class="ti" viewBox="0 0 24 24" stroke-width="2.2" style="width:14px;height:14px;"><path d="M4 20h4l10.5 -10.5a2.828 2.828 0 1 0 -4 -4l-10.5 10.5v4"/><path d="M13.5 6.5l4 4"/></svg></div></div>
<div class="ab" style="left:734px;top:123.0px;width:33px;background:#ff3a6e"><div class="abs" style="left:9.5px;top:8.5px"><svg class="ti" viewBox="0 0 24 24" stroke-width="2.2" style="width:14px;height:14px;"><path d="M4 7l16 0"/><path d="M10 11l0 6"/><path d="M14 11l0 6"/><path d="M5 7l1 12a2 2 0 0 0 2 2h8a2 2 0 0 0 2 -2l1 -12"/><path d="M9 7v-3a1 1 0 0 1 1 -1h4a1 1 0 0 1 1 1v3"/></svg></div></div>
<div class="sep" style="top:179.0px;width:740px"></div>
<div class="mtitle" style="top:200.5px"><span style="letter-spacing:0.70px">Communication Updates</span></div>
<div class="badge" style="left:208.3px;top:197.2px;width:92px;height:26.6px;line-height:28.6px;background:#3ec9d6;"><span style="letter-spacing:0.11px">In Progress</span></div>
<div class="mmail" style="left:25px;top:230.2px"><span style="letter-spacing:-0.15px">32 Tasks</span></div>
<div class="ab" style="left:653px;top:205.8px;background:#ffa21d"><div class="abs" style="left:8.5px;top:8px"><svg class="ti" viewBox="0 0 24 24" stroke-width="2" style="width:15px;height:15px;"><circle cx="12" cy="12" r="2"/><path d="M22 12c-2.667 4.667 -6 7 -10 7s-7.333 -2.333 -10 -7c2.667 -4.667 6 -7 10 -7s7.333 2.333 10 7"/></svg></div></div>
<div class="ab" style="left:694px;top:205.8px;background:#3ec9d6"><div class="abs" style="left:9px;top:8.5px"><svg class="ti" viewBox="0 0 24 24" stroke-width="2.2" style="width:14px;height:14px;"><path d="M4 20h4l10.5 -10.5a2.828 2.828 0 1 0 -4 -4l-10.5 10.5v4"/><path d="M13.5 6.5l4 4"/></svg></div></div>
<div class="ab" style="left:734px;top:205.8px;width:33px;background:#ff3a6e"><div class="abs" style="left:9.5px;top:8.5px"><svg class="ti" viewBox="0 0 24 24" stroke-width="2.2" style="width:14px;height:14px;"><path d="M4 7l16 0"/><path d="M10 11l0 6"/><path d="M14 11l0 6"/><path d="M5 7l1 12a2 2 0 0 0 2 2h8a2 2 0 0 0 2 -2l1 -12"/><path d="M9 7v-3a1 1 0 0 1 1 -1h4a1 1 0 0 1 1 1v3"/></svg></div></div>
<div class="sep" style="top:261.8px;width:740px"></div>
<div class="mtitle" style="top:284.3px"><span style="letter-spacing:0.52px">Design Approval</span></div>
<div class="badge" style="left:146.3px;top:280.0px;width:76px;height:26.6px;line-height:28.6px;background:#ffa21d;"><span style="letter-spacing:0.12px">On Hold</span></div>
<div class="mmail" style="left:25px;top:313.0px"><span style="letter-spacing:-0.11px">0 Tasks</span></div>
<div class="ab" style="left:653px;top:287.6px;background:#ffa21d"><div class="abs" style="left:8.5px;top:8px"><svg class="ti" viewBox="0 0 24 24" stroke-width="2" style="width:15px;height:15px;"><circle cx="12" cy="12" r="2"/><path d="M22 12c-2.667 4.667 -6 7 -10 7s-7.333 -2.333 -10 -7c2.667 -4.667 6 -7 10 -7s7.333 2.333 10 7"/></svg></div></div>
<div class="ab" style="left:694px;top:287.6px;background:#3ec9d6"><div class="abs" style="left:9px;top:8.5px"><svg class="ti" viewBox="0 0 24 24" stroke-width="2.2" style="width:14px;height:14px;"><path d="M4 20h4l10.5 -10.5a2.828 2.828 0 1 0 -4 -4l-10.5 10.5v4"/><path d="M13.5 6.5l4 4"/></svg></div></div>
<div class="ab" style="left:734px;top:288.6px;width:33px;background:#ff3a6e"><div class="abs" style="left:9.5px;top:8.5px"><svg class="ti" viewBox="0 0 24 24" stroke-width="2.2" style="width:14px;height:14px;"><path d="M4 7l16 0"/><path d="M10 11l0 6"/><path d="M14 11l0 6"/><path d="M5 7l1 12a2 2 0 0 0 2 2h8a2 2 0 0 0 2 -2l1 -12"/><path d="M9 7v-3a1 1 0 0 1 1 -1h4a1 1 0 0 1 1 1v3"/></svg></div></div>
<div class="sep" style="top:344.6px;width:740px"></div>
<div class="mtitle" style="top:366.1px"><span style="letter-spacing:0.70px">Communication Updates</span></div>
<div class="badge" style="left:208.3px;top:362.8px;width:81px;height:26.6px;line-height:26.6px;background:#ff3a6e;"><span style="letter-spacing:0.05px">Canceled</span></div>
<div class="mmail" style="left:25px;top:394.8px"><span style="letter-spacing:-0.11px">0 Tasks</span></div>
<div class="ab" style="left:653px;top:371.4px;background:#ffa21d"><div class="abs" style="left:8.5px;top:8px"><svg class="ti" viewBox="0 0 24 24" stroke-width="2" style="width:15px;height:15px;"><circle cx="12" cy="12" r="2"/><path d="M22 12c-2.667 4.667 -6 7 -10 7s-7.333 -2.333 -10 -7c2.667 -4.667 6 -7 10 -7s7.333 2.333 10 7"/></svg></div></div>
<div class="ab" style="left:694px;top:371.4px;background:#3ec9d6"><div class="abs" style="left:9px;top:8.5px"><svg class="ti" viewBox="0 0 24 24" stroke-width="2.2" style="width:14px;height:14px;"><path d="M4 20h4l10.5 -10.5a2.828 2.828 0 1 0 -4 -4l-10.5 10.5v4"/><path d="M13.5 6.5l4 4"/></svg></div></div>
<div class="ab" style="left:734px;top:371.4px;width:33px;background:#ff3a6e"><div class="abs" style="left:9.5px;top:8.5px"><svg class="ti" viewBox="0 0 24 24" stroke-width="2.2" style="width:14px;height:14px;"><path d="M4 7l16 0"/><path d="M10 11l0 6"/><path d="M14 11l0 6"/><path d="M5 7l1 12a2 2 0 0 0 2 2h8a2 2 0 0 0 2 -2l1 -12"/><path d="M9 7v-3a1 1 0 0 1 1 -1h4a1 1 0 0 1 1 1v3"/></svg></div></div>
<div class="sep" style="top:427.4px;width:740px"></div>
</div>
</div>

</body>
</html>
